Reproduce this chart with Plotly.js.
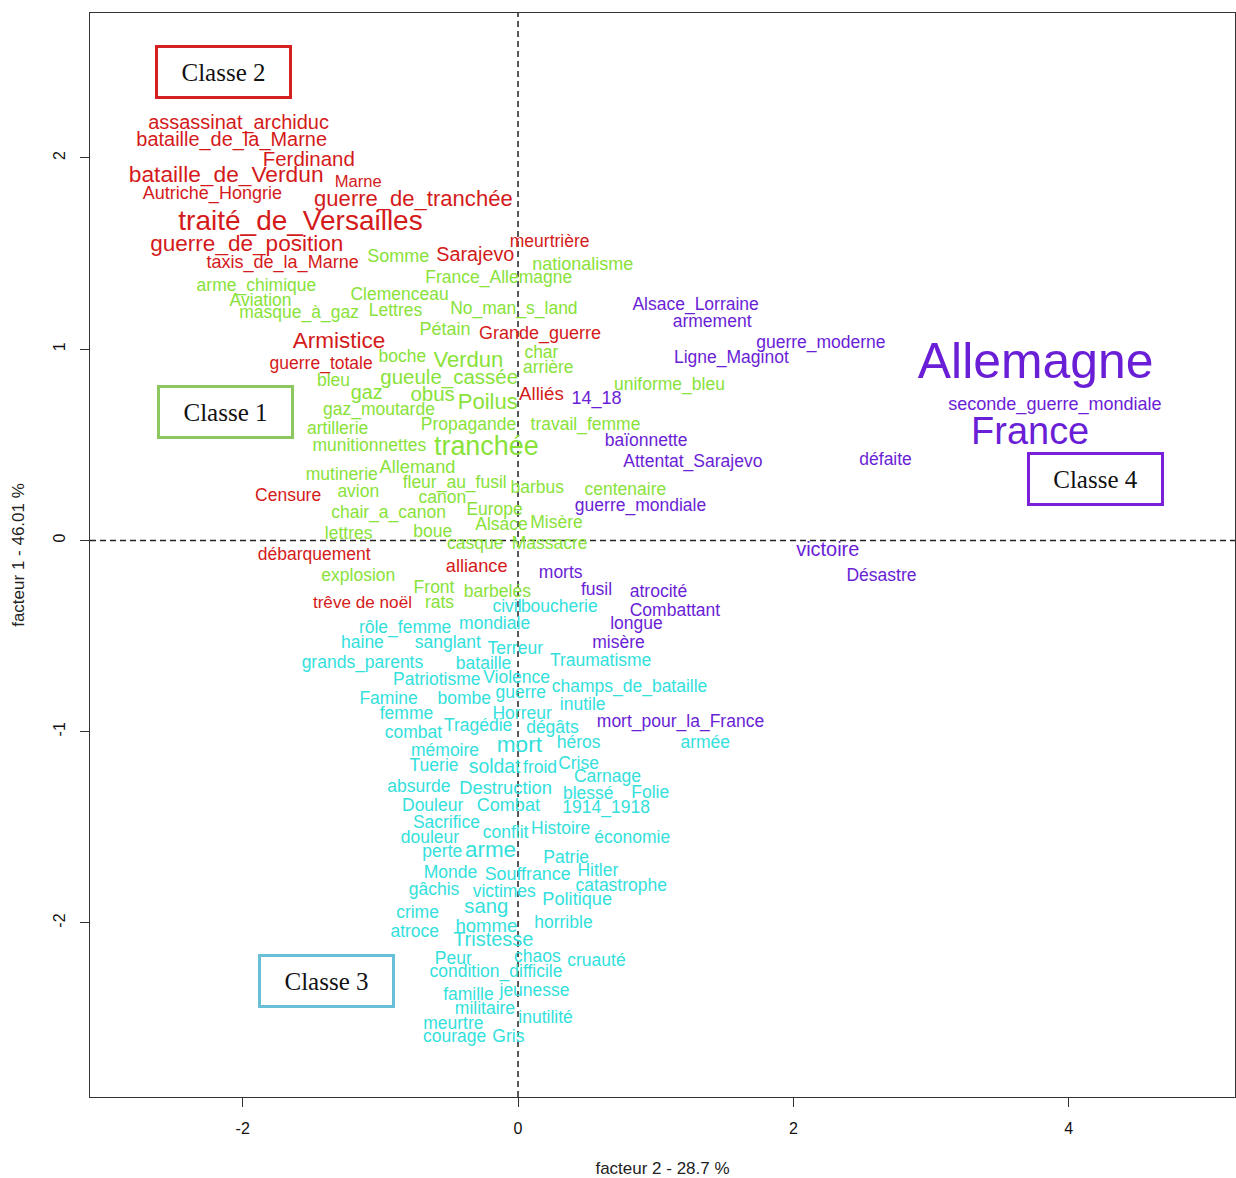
<!DOCTYPE html>
<html>
<head>
<meta charset="utf-8">
<script src="https://cdn.plot.ly/plotly-3.0.1.min.js"></script>
<style>html,body{margin:0;padding:0;background:#fff;}#chart{width:1236px;height:1178px;}</style>
</head>
<body>
<div id="chart"></div>
<script>
// ---- Classe 2 (red) ----
const class2Words = ["assassinat_archiduc","bataille_de_la_Marne","Ferdinand","bataille_de_Verdun","Marne","Autriche_Hongrie","guerre_de_tranchée","traité_de_Versailles","guerre_de_position","taxis_de_la_Marne","Sarajevo","meurtrière","Grande_guerre","Armistice","guerre_totale","Alliés","Censure","débarquement","alliance","trêve de noël"];
const class2X = [-2.03,-2.08,-1.52,-2.12,-1.16,-2.22,-0.76,-1.58,-1.97,-1.71,-0.31,0.23,0.16,-1.30,-1.43,0.17,-1.67,-1.48,-0.30,-1.13];
const class2Y = [2.19,2.10,2.00,1.92,1.88,1.82,1.79,1.68,1.56,1.46,1.50,1.57,1.09,1.05,0.93,0.77,0.24,-0.07,-0.13,-0.32];
const class2Weight = [1.14,1.14,1.17,1.30,0.95,1.03,1.26,1.60,1.29,1.03,1.13,1.0,1.03,1.29,1.0,1.07,1.0,1.0,1.04,0.98];

// ---- Classe 1 (green) ----
const class1Words = ["Somme","nationalisme","France_Allemagne","arme_chimique","Clemenceau","Aviation","masque_à_gaz","Lettres","No_man_s_land","Pétain","char","boche","Verdun","arrière","bleu","gueule_cassée","uniforme_bleu","gaz","obus","Poilus","gaz_moutarde","travail_femme","artillerie","Propagande","munitionnettes","tranchée","Allemand","mutinerie","fleur_au_fusil","barbus","centenaire","avion","canon","chair_a_canon","Europe","Alsace","Misère","lettres","boue","casque","Massacre","explosion","Front","barbelés","rats"];
const class1X = [-0.87,0.47,-0.14,-1.90,-0.86,-1.87,-1.59,-0.89,-0.03,-0.53,0.17,-0.84,-0.36,0.22,-1.34,-0.50,1.10,-1.10,-0.62,-0.22,-1.01,0.49,-1.31,-0.36,-1.08,-0.23,-0.73,-1.28,-0.46,0.14,0.78,-1.16,-0.55,-0.94,-0.17,-0.12,0.28,-1.23,-0.62,-0.31,0.23,-1.16,-0.61,-0.15,-0.57];
const class1Y = [1.49,1.45,1.38,1.34,1.29,1.26,1.20,1.21,1.22,1.11,0.99,0.97,0.95,0.91,0.84,0.86,0.82,0.78,0.77,0.73,0.69,0.61,0.59,0.61,0.50,0.50,0.39,0.35,0.31,0.28,0.27,0.26,0.23,0.15,0.17,0.09,0.10,0.04,0.05,-0.01,-0.01,-0.18,-0.24,-0.26,-0.32];
const class1Weight = [1.03,1.03,1,1,1,1,1,1,1,1.03,1,1,1.26,1,1,1.17,1,1.13,1.17,1.26,1,1,1,1,1,1.54,1.04,1,1,1,1,1,1,1,1,1,1,1,1,1,1,1,1,1,1];

// ---- Classe 4 (purple) ----
const class4Words = ["Alsace_Lorraine","armement","guerre_moderne","Ligne_Maginot","Allemagne","14_18","seconde_guerre_mondiale","France","baïonnette","Attentat_Sarajevo","défaite","guerre_mondiale","victoire","Désastre","morts","fusil","atrocité","Combattant","longue","misère","mort_pour_la_France"];
const class4X = [1.29,1.41,2.20,1.55,3.76,0.57,3.90,3.72,0.93,1.27,2.67,0.89,2.25,2.64,0.31,0.57,1.02,1.14,0.86,0.73,1.18];
const class4Y = [1.24,1.15,1.04,0.96,0.95,0.75,0.72,0.58,0.53,0.42,0.43,0.19,-0.04,-0.18,-0.16,-0.25,-0.26,-0.36,-0.43,-0.53,-0.94];
const class4Weight = [1,1,1,1,2.85,1.03,1.03,2.17,1,1,1,1,1.14,1,1,1,1,1,1,1,1];

// ---- Classe 3 (cyan) ----
const class3Words = ["civil","boucherie","rôle_femme","mondiale","haine","sanglant","Terreur","grands_parents","bataille","Traumatisme","Patriotisme","Violence","champs_de_bataille","guerre","Famine","bombe","inutile","femme","Horreur","Tragédie","dégâts","combat","mort","mémoire","héros","armée","Tuerie","soldat","froid","Crise","Carnage","absurde","Destruction","blessé","Folie","Douleur","Combat","1914_1918","Sacrifice","Histoire","conflit","douleur","économie","perte","arme","Patrie","Monde","Souffrance","Hitler","catastrophe","gâchis","victimes","Politique","sang","crime","homme","horrible","atroce","Tristesse","Peur","chaos","cruauté","condition_difficile","famille","jeunesse","militaire","inutilité","meurtre","courage","Gris"];
const class3X = [-0.08,0.30,-0.82,-0.17,-1.13,-0.51,-0.02,-1.13,-0.25,0.60,-0.59,-0.01,0.81,0.02,-0.94,-0.39,0.47,-0.81,0.03,-0.29,0.25,-0.76,0.01,-0.53,0.44,1.36,-0.61,-0.17,0.16,0.44,0.65,-0.72,-0.09,0.51,0.96,-0.62,-0.07,0.64,-0.52,0.31,-0.09,-0.64,0.83,-0.55,-0.20,0.35,-0.49,0.07,0.58,0.75,-0.61,-0.10,0.43,-0.23,-0.73,-0.23,0.33,-0.75,-0.18,-0.47,0.14,0.57,-0.16,-0.36,0.12,-0.24,0.20,-0.47,-0.46,-0.07];
const class3Y = [-0.34,-0.34,-0.45,-0.43,-0.53,-0.53,-0.56,-0.63,-0.64,-0.62,-0.72,-0.71,-0.76,-0.79,-0.82,-0.82,-0.85,-0.90,-0.90,-0.96,-0.97,-1.00,-1.06,-1.09,-1.05,-1.05,-1.17,-1.18,-1.18,-1.16,-1.23,-1.28,-1.29,-1.32,-1.31,-1.38,-1.38,-1.39,-1.47,-1.50,-1.52,-1.55,-1.55,-1.62,-1.61,-1.65,-1.73,-1.74,-1.72,-1.80,-1.82,-1.83,-1.87,-1.91,-1.94,-2.01,-1.99,-2.04,-2.08,-2.18,-2.17,-2.19,-2.25,-2.37,-2.35,-2.44,-2.49,-2.52,-2.59,-2.59];
const class3Weight = [1,1,1,1,1,1,1,1,1,1,1,1,1,1,1,1,1,1,1,1,1,1,1.29,1,1,1,1,1.11,1,1,1,1,1.05,1,1,1,1.03,1,1,1,1,1,1,1,1.28,1,1,1.02,1,1,1,1,1.04,1.16,1,1.06,1,1,1.14,1,1,1,1,1,1,1,1,1,1,1];

// ---- Class labels ----
const classLabels = ["Classe 2","Classe 1","Classe 3","Classe 4"];
const classLabelX = [-2.139,-2.128,-1.394,4.194];
const classLabelY = [2.452,0.674,-2.305,0.324];

// ---- Axes ----
const xTicks = [-2,0,2,4];
const yTicks = [-2,-1,0,1,2];
const xTitle = "facteur 2 - 28.7 %";
const yTitle = "facteur 1 - 46.01 %";

const BASE = 17.5;
const FONT = "Liberation Sans, Arial, sans-serif";
// small vertical correction: Plotly centres text on its full line box, R on the glyph body
const TEXT_DROP = 0.0115;
function wordTrace(words, xs, ys, weights, color) {
  return {
    type: "scatter", mode: "text", x: xs, y: ys.map((v, i) => v - TEXT_DROP * weights[i]), text: words,
    textposition: "middle center",
    textfont: { family: FONT, size: weights.map(w => w * BASE), color: color },
    hoverinfo: "text", showlegend: false, cliponaxis: false
  };
}
const traces = [
  wordTrace(class1Words, class1X, class1Y, class1Weight, "#88e23a"),
  wordTrace(class3Words, class3X, class3Y, class3Weight, "#33e0dc"),
  wordTrace(class4Words, class4X, class4Y, class4Weight, "#6a1ed6"),
  wordTrace(class2Words, class2X, class2Y, class2Weight, "#d41a1a")
];

const boxColors = ["#d42020","#8cc860","#68c0d8","#7a20d8"];
const annotations = classLabels.map((t, i) => ({
  x: classLabelX[i], y: classLabelY[i], xref: "x", yref: "y", text: t, showarrow: false,
  font: { family: "Liberation Serif, Times New Roman, serif", size: 25, color: "#111" },
  bordercolor: boxColors[i], borderwidth: 3, borderpad: 0, width: 131, height: 48,
  bgcolor: "rgba(255,255,255,0)", xanchor: "center", yanchor: "middle"
}));

const axisCommon = {
  showgrid: false, zeroline: false, showline: true, mirror: true,
  linecolor: "#333", linewidth: 1, ticks: "outside", ticklen: 9, tickcolor: "#333",
  tickfont: { family: FONT, size: 16, color: "#111" }, fixedrange: true
};
const layout = {
  width: 1236, height: 1178,
  margin: { l: 90, r: 1, t: 13, b: 81 },
  paper_bgcolor: "#fff", plot_bgcolor: "#fff",
  xaxis: Object.assign({}, axisCommon, {
    range: [-3.109, 5.208], tickmode: "array", tickvals: xTicks, ticktext: xTicks.map(String),
    ticklabelstandoff: 8,
    title: { text: xTitle, font: { family: FONT, size: 17, color: "#222" }, standoff: 25 }
  }),
  yaxis: Object.assign({}, axisCommon, {
    range: [-2.910, 2.758], tickmode: "array", tickvals: yTicks, ticktext: yTicks.map(String),
    tickangle: -90, ticklabelstandoff: 9,
    title: { text: yTitle, font: { family: FONT, size: 17, color: "#222" }, standoff: 21 }
  }),
  shapes: [
    { type: "line", xref: "x", yref: "paper", x0: 0, x1: 0, y0: 0, y1: 1, layer: "below",
      line: { color: "#222", width: 1.5, dash: "6px,4px" } },
    { type: "line", xref: "paper", yref: "y", x0: 0, x1: 1, y0: 0, y1: 0, layer: "below",
      line: { color: "#222", width: 1.5, dash: "6px,4px" } }
  ],
  annotations: annotations
};
Plotly.newPlot("chart", traces, layout, { displayModeBar: false, staticPlot: true });
</script>
</body>
</html>
